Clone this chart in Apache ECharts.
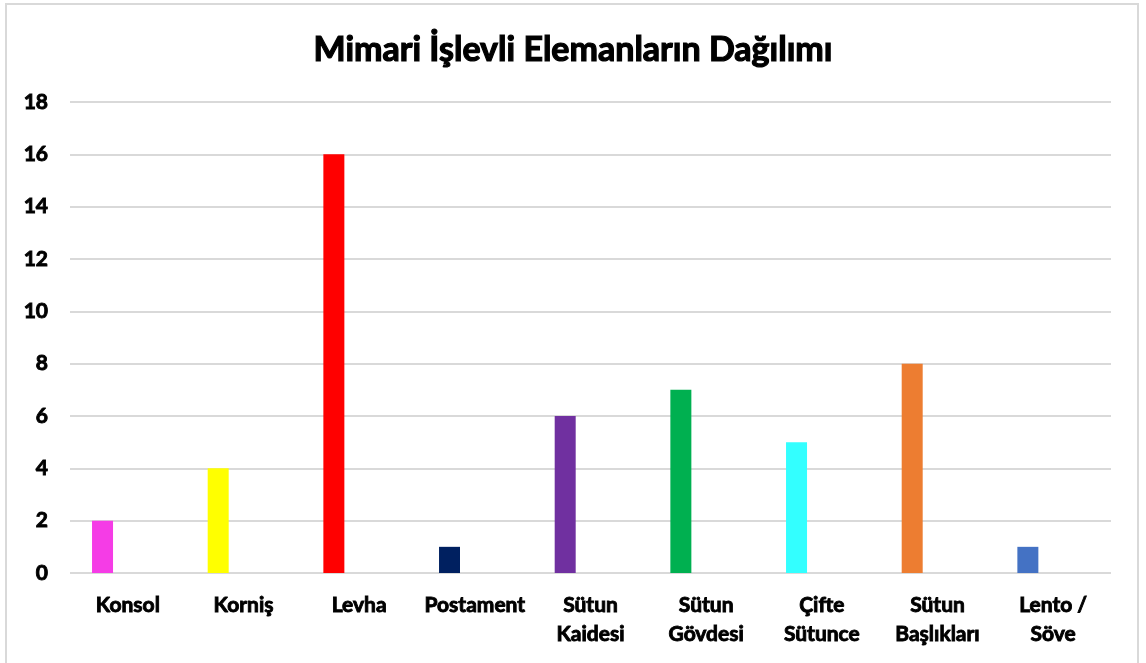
<!DOCTYPE html>
<html>
<head>
<meta charset="utf-8">
<script src="https://cdn.jsdelivr.net/npm/echarts@6/dist/echarts.min.js"></script>
<style>
  html, body { margin: 0; padding: 0; background: #fff; }
  #chart { width: 1146px; height: 663px; }
</style>
</head>
<body>
<div id="chart"></div>
<script>
// Element categories (two-word names wrap onto a second line)
const categories = ['Konsol', 'Korniş', 'Levha', 'Postament', 'Sütun\nKaidesi', 'Sütun\nGövdesi', 'Çifte\nSütunce', 'Sütun\nBaşlıkları', 'Lento /\nSöve'];
// Number of elements per category
const counts = [2, 4, 16, 1, 6, 7, 5, 8, 1];
// Y axis tick range
const yMin = 0;
const yMax = 18;
const yStep = 2;

// One fill colour per bar
const barColors = ['#F53CE6', '#FFFF00', '#FF0000', '#002060', '#7030A0', '#00B050', '#33FFFF', '#ED7D31', '#4472C4'];

const FONT = 'Lato';

const chart = echarts.init(document.getElementById('chart'), null, { renderer: 'canvas' });

chart.setOption({
  backgroundColor: '#ffffff',
  animation: false,
  title: {
    text: 'Mimari İşlevli Elemanların Dağılımı',
    left: 'center',
    top: 28,
    textStyle: {
      fontFamily: FONT,
      fontWeight: 'bold',
      fontSize: 34,
      color: '#000',
      textBorderColor: '#000',
      textBorderWidth: 1.2
    }
  },
  graphic: [{
    type: 'rect',
    shape: { x: 6, y: 4, width: 1132, height: 700 },
    style: { fill: 'none', stroke: '#d9d9d9', lineWidth: 2 },
    silent: true
  }],
  grid: { left: 70, right: 35, top: 102, bottom: 90, containLabel: false },
  xAxis: {
    type: 'category',
    data: categories,
    axisLine: { show: false },
    axisTick: { show: false },
    axisLabel: {
      interval: 0,
      margin: 18,
      fontFamily: FONT,
      fontWeight: 'bold',
      fontSize: 21,
      lineHeight: 29,
      color: '#000',
      textBorderColor: '#000',
      textBorderWidth: 0.9,
      verticalAlign: 'top'
    }
  },
  yAxis: {
    type: 'value',
    min: yMin,
    max: yMax,
    interval: yStep,
    axisLine: { show: false },
    axisTick: { show: false },
    splitLine: { lineStyle: { color: '#d9d9d9', width: 2 } },
    axisLabel: {
      margin: 22,
      fontFamily: FONT,
      fontWeight: 'bold',
      fontSize: 21,
      color: '#000',
      textBorderColor: '#000',
      textBorderWidth: 0.9
    }
  },
  series: [
    {
      type: 'bar',
      barWidth: 21,
      barGap: '141%',
      data: counts.map((v, i) => ({ value: v, itemStyle: { color: barColors[i] } }))
    },
    {
      // empty companion series that keeps each bar left of its category centre
      type: 'bar',
      barWidth: 21,
      barGap: '141%',
      data: counts.map(() => null),
      silent: true
    }
  ]
});
</script>
</body>
</html>
